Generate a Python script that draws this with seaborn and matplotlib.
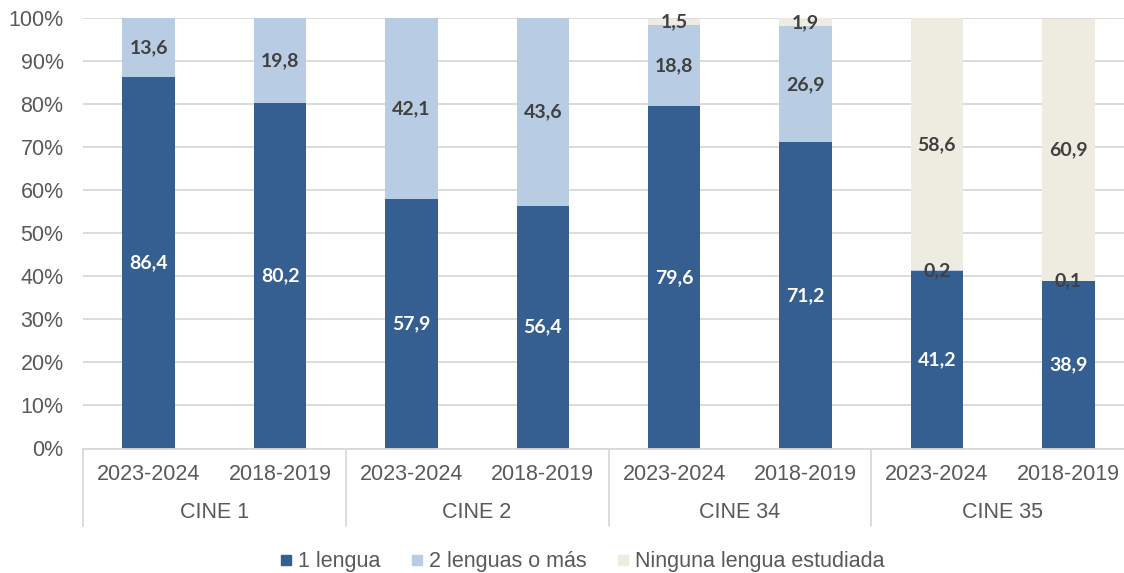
import numpy as np
import pandas as pd
import matplotlib
matplotlib.use("Agg")
import matplotlib.pyplot as plt
import matplotlib.transforms as mtransforms
from matplotlib.lines import Line2D
import seaborn as sns

# ---- data ----
groups = ["CINE 1", "CINE 2", "CINE 34", "CINE 35"]
years = ["2023-2024", "2018-2019"]
series_names = ["1 lengua", "2 lenguas o más", "Ninguna lengua estudiada"]
una = [86.4, 80.2, 57.9, 56.4, 79.6, 71.2, 41.2, 38.9]
dos = [13.6, 19.8, 42.1, 43.6, 18.8, 26.9, 0.2, 0.1]
ninguna = [0.0, 0.0, 0.0, 0.0, 1.5, 1.9, 58.6, 60.9]
y_ticks = [0, 10, 20, 30, 40, 50, 60, 70, 80, 90, 100]

colors = ["#355F91", "#B8CCE4", "#EEECE1"]
label_colors = ["white", "#404040", "#404040"]

sns.set_theme(style="white")
plt.rcParams["font.family"] = ["Liberation Sans", "DejaVu Sans"]

cats = [f"{g} {y}" for g in groups for y in years]
year_labels = [y for g in groups for y in years]
df = pd.DataFrame({"cat": cats, "una": una, "dos": dos, "ninguna": ninguna})
df["c1"] = df["una"]
df["c2"] = df["una"] + df["dos"]
df["c3"] = df["una"] + df["dos"] + df["ninguna"]

fig = plt.figure(figsize=(11.24, 5.73), dpi=100)
W, H = 1124, 573
ax = fig.add_axes([83 / W, 1 - 448.5 / H, (1134 - 83) / W, (448.5 - 18.3) / H])

# stacked by overlapping cumulative bars
for col, c in zip(["c3", "c2", "c1"], colors[::-1]):
    sns.barplot(data=df, x="cat", y=col, order=cats, color=c, saturation=1,
                width=0.4, linewidth=0, ax=ax, zorder=2)

ax.set_xlim(-0.5, 7.5)
ax.set_ylim(0, 100)
ax.set_yticks(y_ticks)
ax.set_yticklabels([f"{v}%" for v in y_ticks], fontsize=15.5, color="#595959")
ax.tick_params(axis="y", length=0, pad=14)
ax.yaxis.grid(True, color="#D9D9D9", linewidth=1.3, zorder=0)
ax.set_axisbelow(True)
for s in ["top", "right", "left"]:
    ax.spines[s].set_visible(False)
ax.spines["bottom"].set_color("#D9D9D9")
ax.spines["bottom"].set_linewidth(1.3)
ax.set_xlabel("")
ax.set_ylabel("")
ax.set_xticks(range(len(cats)))
ax.set_xticklabels([])
ax.tick_params(axis="x", length=0)

trans = mtransforms.blended_transform_factory(ax.transData, ax.transAxes)
for i, yl in enumerate(year_labels):
    ax.text(i, -0.061, yl, transform=trans, ha="center", va="center",
            fontsize=15.5, color="#595959")
for gi, g in enumerate(groups):
    ax.text(gi * 2 + 0.5, -0.149, g, transform=trans, ha="center", va="center",
            fontsize=15.5, color="#595959")
for xs in [-0.5, 1.5, 3.5, 5.5, 7.5]:
    ax.plot([xs, xs], [0, -0.181], transform=trans, color="#D9D9D9",
            linewidth=1.3, clip_on=False)

# data labels
for i in range(len(cats)):
    bottom = 0.0
    for vals, lc in zip([una, dos, ninguna], label_colors):
        v = vals[i]
        if v > 0:
            ax.text(i, bottom + v / 2, f"{v:.1f}".replace(".", ","),
                    ha="center", va="center", fontsize=14, fontweight="bold",
                    color=lc, family=["Lato", "DejaVu Sans"], zorder=5)
        bottom += v

handles = [Line2D([0], [0], marker="s", linestyle="none", markersize=7.5,
                  markerfacecolor=c, markeredgecolor=c) for c in colors]
fig.legend(handles, series_names, loc="center", bbox_to_anchor=(582 / W, 1 - 562 / H),
           ncol=3, frameon=False, fontsize=15.5, handlelength=0.6,
           handletextpad=0.25, columnspacing=1.4, labelcolor="#595959")

fig.savefig("out.png", dpi=100)
